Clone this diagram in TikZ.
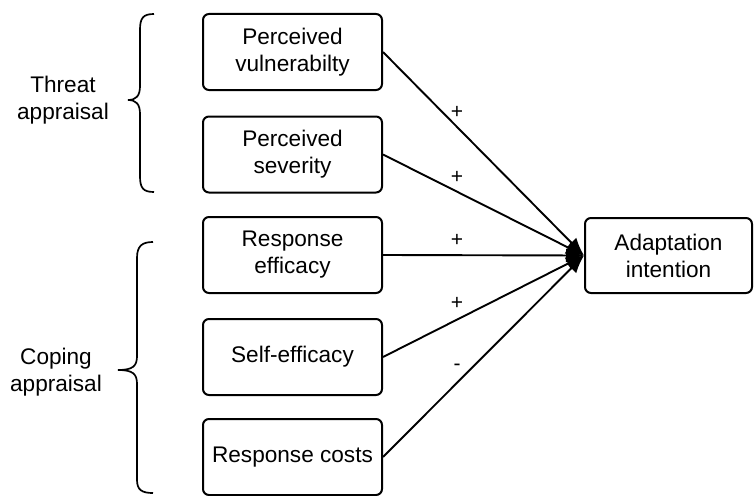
\documentclass[tikz,border=0pt]{standalone}
\usepackage{fontspec}
\setmainfont{Liberation Sans}
\usetikzlibrary{arrows.meta}
\begin{document}
\begin{tikzpicture}[x=1pt,y=-1pt,
  box/.style={draw, line width=2pt, rounded corners=6pt, minimum width=179pt, minimum height=76pt, align=center, inner sep=0pt, font=\fontsize{22.6}{27}\selectfont},
  conn/.style={line width=1.9pt, -{Latex[length=18pt,width=14pt]}},
  sign/.style={font=\fontsize{21}{22}\selectfont, inner sep=0pt},
  grp/.style={align=center, font=\fontsize{22.6}{27}\selectfont, inner sep=0pt},
  brc/.style={line width=1.7pt}]
\useasboundingbox (0,0) rectangle (754,495);
\node[box] (b1) at (292.5,52) {Perceived\\vulnerabilty};
\node[box] (b2) at (292.5,154.5) {Perceived\\severity};
\node[box] (b3) at (292.5,255) {Response\\efficacy};
\node[box] (b4) at (292.5,357) {Self-efficacy};
\node[box] (b5) at (292.5,457) {Response costs};
\node[box, minimum width=167pt, minimum height=75pt] (ai) at (668.5,255.5) {Adaptation\\intention};
\draw[conn] (b1.east) -- (ai.west);
\draw[conn] (b2.east) -- (ai.west);
\draw[conn] (b3.east) -- (ai.west);
\draw[conn] (b4.east) -- (ai.west);
\draw[conn] (b5.east) -- (ai.west);
\node[sign] (s1) at (457,112) {+};
\node[sign] (s2) at (457,177) {+};
\node[sign] (s3) at (457,240) {+};
\node[sign] (s4) at (457,303) {+};
\node[sign] (s5) at (457,367) {-};
\node[grp] (ta) at (63,100) {Threat\\appraisal};
\node[grp] (ca) at (56,372) {Coping\\appraisal};
\draw[brc] (154,14) .. controls (143,14) and (140,18) .. (140,30) -- (140,86)
  .. controls (140,96) and (136,100) .. (128,100)
  .. controls (136,100) and (140,104) .. (140,114) -- (140,176)
  .. controls (140,188) and (143,192) .. (154,192);
\draw[brc] (153,242) .. controls (142,242) and (137,246) .. (137,258) -- (137,356)
  .. controls (137,366) and (133,370) .. (118,370)
  .. controls (133,370) and (137,374) .. (137,384) -- (137,480)
  .. controls (137,490) and (142,493) .. (153,493);
\end{tikzpicture}
\end{document}
